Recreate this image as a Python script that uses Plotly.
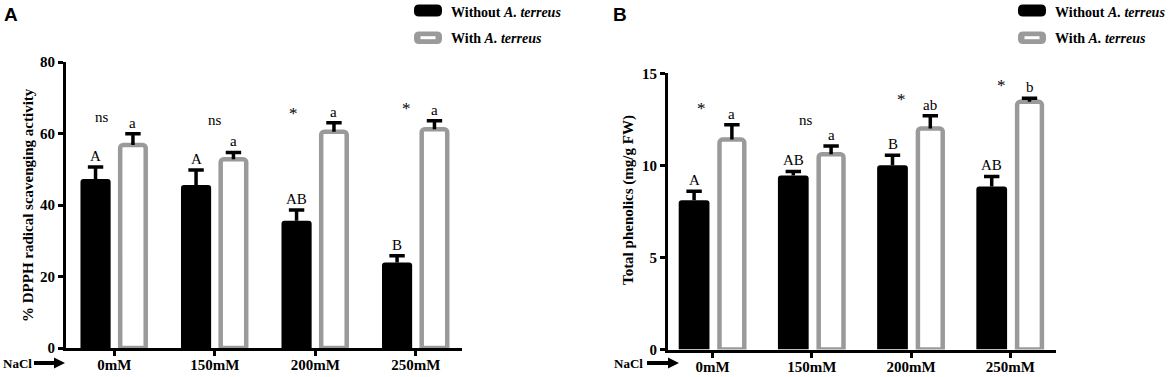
import plotly.graph_objects as go

# ---------------- data ----------------
categories = ["0mM", "150mM", "200mM", "250mM"]

dpph_without = [47.3, 45.6, 35.6, 23.9]
dpph_without_err = [3.3, 4.2, 3.0, 1.9]
dpph_with = [56.8, 52.8, 60.5, 61.2]
dpph_with_err = [3.1, 1.9, 2.5, 2.4]
dpph_without_letters = ["A", "A", "AB", "B"]
dpph_with_letters = ["a", "a", "a", "a"]
dpph_sig = ["ns", "ns", "*", "*"]

phen_without = [8.1, 9.45, 10.0, 8.85]
phen_without_err = [0.5, 0.22, 0.55, 0.55]
phen_with = [11.4, 10.6, 12.0, 13.45]
phen_with_err = [0.8, 0.45, 0.7, 0.2]
phen_without_letters = ["A", "AB", "B", "AB"]
phen_with_letters = ["a", "a", "ab", "b"]
phen_sig = ["*", "ns", "*", "*"]

series_names = ["Without A. terreus", "With A. terreus"]

# ---------------- layout helpers ----------------
W, H = 1170, 377
SERIF = "Liberation Serif"
GRAY = "#9a9a9a"


def px(x):
    return x / W


def py(y):
    return 1 - y / H


def P(x, y):
    return f"{px(x):.5f},{py(y):.5f}"


def rrect(x0, y0, x1, y1, r):
    return (f"M{P(x0 + r, y0)} L{P(x1 - r, y0)} Q{P(x1, y0)} {P(x1, y0 + r)} "
            f"L{P(x1, y1 - r)} Q{P(x1, y1)} {P(x1 - r, y1)} L{P(x0 + r, y1)} "
            f"Q{P(x0, y1)} {P(x0, y1 - r)} L{P(x0, y0 + r)} Q{P(x0, y0)} {P(x0 + r, y0)} Z")


def arrow(x0, x1, yc):
    return (f"M{P(x0, yc - 2)} L{P(x1 - 11, yc - 2)} L{P(x1 - 11, yc - 5.5)} L{P(x1, yc)} "
            f"L{P(x1 - 11, yc + 5.5)} L{P(x1 - 11, yc + 2)} L{P(x0, yc + 2)} Z")


fig = go.Figure()
annotations = []
shapes = []

panels = [
    dict(xa="x", ya="y", without=dpph_without, without_err=dpph_without_err,
         with_=dpph_with, with_err=dpph_with_err, lw=dpph_without_letters,
         lwith=dpph_with_letters, sig=dpph_sig,
         sig_dx=[-0.12, 0.0, -0.22, -0.095], sig_y=[64.6, 63.8, 65.5, 66.9],
         boff=-0.336, bw=0.30, goff=0.059, gw=0.254,
         label="A", label_xy=(11, 15), legend_x=414, text_x=449,
         nacl_x=17, arrow_x=(34, 65), title_x=28, title_y=205,
         title="% DPPH radical scavenging activity"),
    dict(xa="x2", ya="y2", without=phen_without, without_err=phen_without_err,
         with_=phen_with, with_err=phen_with_err, lw=phen_without_letters,
         lwith=phen_with_letters, sig=phen_sig,
         sig_dx=[-0.116, -0.055, -0.10, -0.09], sig_y=[13.1, 12.45, 13.6, 14.35],
         boff=-0.342, bw=0.31, goff=0.069, gw=0.25,
         label="B", label_xy=(620, 14), legend_x=1018, text_x=1053,
         nacl_x=628.5, arrow_x=(647, 679), title_x=628, title_y=200,
         title="Total phenolics (mg/g FW)"),
]

for k, p in enumerate(panels):
    xs = list(range(len(categories)))
    # black bars
    fig.add_trace(go.Bar(
        x=xs, y=p["without"], offset=p["boff"], width=p["bw"],
        marker=dict(color="black", line=dict(color="black", width=0), cornerradius=3),
        name=series_names[0], showlegend=False, xaxis=p["xa"], yaxis=p["ya"],
        hovertext=categories))
    # grey outlined bars
    fig.add_trace(go.Bar(
        x=xs, y=p["with_"], offset=p["goff"], width=p["gw"],
        marker=dict(color="white", line=dict(color=GRAY, width=4.5), cornerradius=3),
        name=series_names[1], showlegend=False, xaxis=p["xa"], yaxis=p["ya"],
        hovertext=categories))

    # upward-only error bars (stem + top cap)
    for vals, errs, off, w in [(p["without"], p["without_err"], p["boff"], p["bw"]),
                               (p["with_"], p["with_err"], p["goff"], p["gw"])]:
        cx = [i + off + w / 2 for i in xs]
        sx, sy = [], []
        for c, v, e in zip(cx, vals, errs):
            sx += [c, c, None]
            sy += [v, v + e, None]
        fig.add_trace(go.Scatter(
            x=sx, y=sy, mode="lines", line=dict(color="black", width=3.5),
            showlegend=False, hoverinfo="skip", xaxis=p["xa"], yaxis=p["ya"]))
        fig.add_trace(go.Scatter(
            x=cx, y=[v + e for v, e in zip(vals, errs)], mode="markers",
            marker=dict(symbol="line-ew", size=11, line=dict(color="black", width=3.5)),
            showlegend=False, hoverinfo="skip", xaxis=p["xa"], yaxis=p["ya"]))

        letters = p["lw"] if off == p["boff"] else p["lwith"]
        for c, v, e, t in zip(cx, vals, errs, letters):
            annotations.append(dict(
                x=c, y=v + e, xref=p["xa"], yref=p["ya"], text=t, showarrow=False,
                yanchor="bottom", yshift=1, font=dict(family=SERIF, size=15, color="black")))

    for i, (t, dx, sy) in enumerate(zip(p["sig"], p["sig_dx"], p["sig_y"])):
        annotations.append(dict(
            x=i + dx, y=sy, xref=p["xa"], yref=p["ya"], text=t, showarrow=False,
            yanchor="middle",
            font=dict(family=SERIF, size=15 if t == "ns" else 17, color="black")))

    # panel letter
    annotations.append(dict(
        x=px(p["label_xy"][0]), y=py(p["label_xy"][1]), xref="paper", yref="paper",
        text=f"<b>{p['label']}</b>", showarrow=False, xanchor="center", yanchor="middle",
        font=dict(family="Liberation Sans", size=19, color="black")))

    # y title
    annotations.append(dict(
        x=px(p["title_x"]), y=py(p["title_y"]), xref="paper", yref="paper",
        text=f"<b>{p['title']}</b>", textangle=-90, showarrow=False,
        xanchor="center", yanchor="middle",
        font=dict(family=SERIF, size=15, color="black")))

    # legend
    lx = p["legend_x"]
    shapes.append(dict(type="path", xref="paper", yref="paper",
                       path=rrect(lx, 4.5, lx + 28, 16.5, 5), fillcolor="black",
                       line=dict(width=0)))
    shapes.append(dict(type="path", xref="paper", yref="paper",
                       path=rrect(lx, 31.5, lx + 28, 44, 5), fillcolor=GRAY,
                       line=dict(width=0)))
    shapes.append(dict(type="rect", xref="paper", yref="paper",
                       x0=px(lx + 6.5), x1=px(lx + 21.5), y0=py(39.2), y1=py(36.2),
                       fillcolor="white", line=dict(width=0)))
    annotations.append(dict(
        x=px(p["text_x"]), y=py(12), xref="paper", yref="paper",
        text="<b>Without <i>A. terreus</i></b>", showarrow=False,
        xanchor="left", yanchor="middle", font=dict(family=SERIF, size=14, color="black")))
    annotations.append(dict(
        x=px(p["text_x"]), y=py(39), xref="paper", yref="paper",
        text="<b>With <i>A. terreus</i></b>", showarrow=False,
        xanchor="left", yanchor="middle", font=dict(family=SERIF, size=14, color="black")))

    # NaCl arrow
    annotations.append(dict(
        x=px(p["nacl_x"]), y=py(363), xref="paper", yref="paper",
        text="<b>NaCl</b>", showarrow=False, xanchor="center", yanchor="middle",
        font=dict(family=SERIF, size=13, color="black")))
    shapes.append(dict(type="path", xref="paper", yref="paper",
                       path=arrow(p["arrow_x"][0], p["arrow_x"][1], 363),
                       fillcolor="black", line=dict(width=0)))

axis_common = dict(showline=True, linecolor="black", linewidth=3, ticks="outside",
                   ticklen=5, tickwidth=3, tickcolor="black", showgrid=False,
                   zeroline=False, automargin=False,
                   tickfont=dict(family=SERIF, size=15, color="black", weight="bold"))

fig.update_layout(
    width=W, height=H, margin=dict(l=0, r=0, t=0, b=0),
    paper_bgcolor="white", plot_bgcolor="white", template="none",
    barmode="overlay", showlegend=False,
    xaxis=dict(domain=[px(66), px(461.5)], range=[-0.48, 3.455], anchor="y",
               tickvals=[0, 1, 2, 3], ticktext=categories, ticklabelstandoff=-4,
               **axis_common),
    yaxis=dict(domain=[py(348), py(62)], range=[0, 80], anchor="x",
               tickvals=[0, 20, 40, 60, 80], **axis_common),
    xaxis2=dict(domain=[px(668), px(1055.5)], range=[-0.45, 3.456], anchor="y2",
                tickvals=[0, 1, 2, 3], ticktext=categories, ticklabelstandoff=-4,
                **axis_common),
    yaxis2=dict(domain=[py(349.5), py(73.3)], range=[0, 15], anchor="x2",
                tickvals=[0, 5, 10, 15], **axis_common),
    annotations=annotations, shapes=shapes,
)

fig.write_html("out.html", config={"displayModeBar": False},
               post_script="document.body.style.margin='0';document.body.style.overflow='hidden';")
